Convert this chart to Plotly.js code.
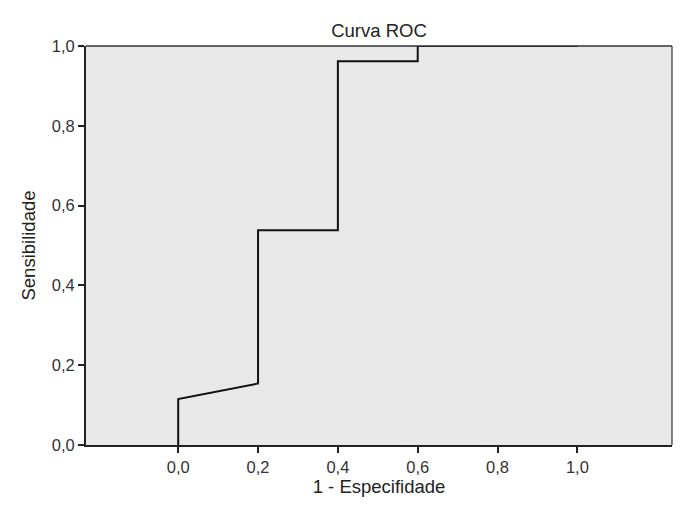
<!DOCTYPE html>
<html>
<head>
<meta charset="utf-8">
<script src="https://cdn.plot.ly/plotly-3.0.1.min.js"></script>
<style>
  html, body { margin: 0; padding: 0; background: #fff; }
  #roc_chart { width: 700px; height: 508px; }
</style>
</head>
<body>
<div id="roc_chart"></div>
<script>
// ROC curve data
var fpr = [0.0, 0.0, 0.2, 0.2, 0.4, 0.4, 0.6, 0.6, 1.0];      // 1 - especificidade
var tpr = [0.0, 0.115, 0.154, 0.538, 0.538, 0.962, 0.962, 1.0, 1.0]; // sensibilidade
var tickVals = [0.0, 0.2, 0.4, 0.6, 0.8, 1.0];
var tickText = ['0,0', '0,2', '0,4', '0,6', '0,8', '1,0'];

var font = 'Liberation Sans, Arial, sans-serif';

var roc = {
    x: fpr,
    y: tpr,
    type: 'scatter',
    mode: 'lines',
    line: { color: '#111', width: 2 },
    hoverinfo: 'skip'
};

var layout = {
    width: 700,
    height: 508,
    showlegend: false,
    paper_bgcolor: '#fff',
    plot_bgcolor: '#e8e8e8',
    margin: { l: 86, r: 28, t: 46, b: 63 },
    font: { family: font, color: '#333', size: 16 },
    title: {
        text: 'Curva ROC',
        font: { family: font, size: 18.5, color: '#222' },
        xref: 'paper', x: 0.5, xanchor: 'center',
        yref: 'paper', y: 1, yanchor: 'bottom',
        pad: { b: 9 }
    },
    xaxis: {
        range: [-0.231, 1.237],
        tickvals: tickVals,
        ticktext: tickText,
        ticks: 'outside', ticklen: 6, tickwidth: 2, tickcolor: '#222',
        showline: true, linecolor: '#222', linewidth: 2,
        showgrid: false, zeroline: false,
        tickfont: { size: 16.5, color: '#333' },
        title: { text: '1 - Especifidade', font: { size: 18.5, color: '#222' }, standoff: 4 }
    },
    yaxis: {
        range: [0, 1],
        tickvals: tickVals,
        ticktext: tickText,
        ticks: 'outside', ticklen: 6, tickwidth: 2, tickcolor: '#222',
        showline: true, linecolor: '#222', linewidth: 2,
        showgrid: false, zeroline: false,
        tickfont: { size: 16.5, color: '#333' },
        title: { text: 'Sensibilidade', font: { size: 18.5, color: '#222' }, standoff: 11 }
    },
    shapes: [
        // top and right frame lines
        { type: 'line', xref: 'paper', yref: 'paper', x0: 0, x1: 1, y0: 1, y1: 1,
          line: { color: '#333', width: 1.5 } },
        { type: 'line', xref: 'paper', yref: 'paper', x0: 1, x1: 1, y0: 0, y1: 1,
          line: { color: '#333', width: 1.2 } }
    ]
};

Plotly.newPlot('roc_chart', [roc], layout, { staticPlot: true });
</script>
</body>
</html>
